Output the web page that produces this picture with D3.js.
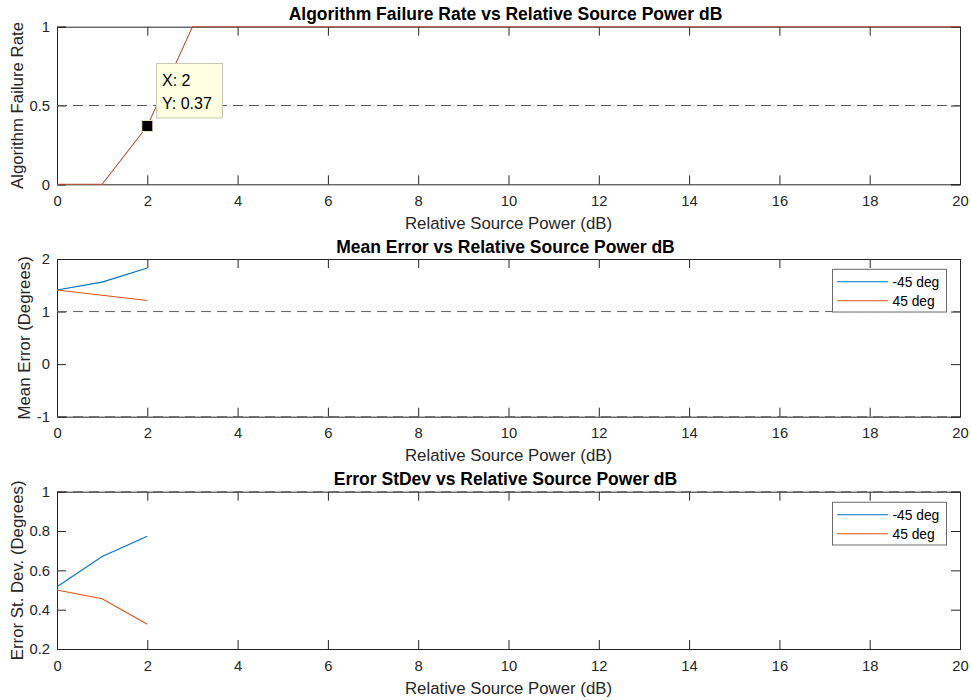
<!DOCTYPE html>
<html>
<head>
<meta charset="utf-8">
<script src="https://cdn.jsdelivr.net/npm/d3@7"></script>
<style>
  html, body { margin: 0; padding: 0; background: #fff; }
  svg { display: block; font-family: "Liberation Sans", Arial, Helvetica, sans-serif; }
</style>
</head>
<body>
<svg id="chart" width="971" height="700"></svg>
<script>
// ---- Data ----
const xFailure = [0,1,2,3,4,5,6,7,8,9,10,11,12,13,14,15,16,17,18,19,20];
const failureRate = [0,0,0.37,1,1,1,1,1,1,1,1,1,1,1,1,1,1,1,1,1,1];
const xError = [0,1,2];
const meanErrMinus45 = [1.41,1.56,1.83];
const meanErrPlus45 = [1.41,1.31,1.21];
const stdMinus45 = [0.517,0.67,0.773];
const stdPlus45 = [0.50,0.456,0.326];
const seriesNames = ["-45 deg","45 deg"];
const xTicks = [0,2,4,6,8,10,12,14,16,18,20];
const yTicks1 = [0,0.5,1];
const yTicks2 = [-1,0,1,2];
const yTicks3 = [0.2,0.4,0.6,0.8,1];
const titles = ["Algorithm Failure Rate vs Relative Source Power dB",
                "Mean Error vs Relative Source Power dB",
                "Error StDev vs Relative Source Power dB"];
const yLabels = ["Algorithm Failure Rate","Mean Error (Degrees)","Error St. Dev. (Degrees)"];
const xLabel = "Relative Source Power (dB)";
const cursorPoint = {x: 2, y: 0.37};

// ---- Styles ----
const AX = "#262626";
const BLUE = "#0072BD", ORANGE = "#D95319", MIX = "#b8553a";
const FONT = "'Liberation Sans', Arial, sans-serif";
const svg = d3.select("#chart");
const L = 57, R = 960, TICK = 9;

const x = d3.scaleLinear().domain([0,20]).range([L,R]);

function panel(top, bottom, yDomain, yTicks, idx, yLabX) {
  const y = d3.scaleLinear().domain(yDomain).range([bottom, top]);
  const g = svg.append("g");
  const fmt = d => String(d);
  const ax = [
    d3.axisBottom(x).tickValues(xTicks).tickSize(-TICK).tickPadding(11).tickFormat(fmt),
    d3.axisTop(x).tickValues(xTicks).tickSize(-TICK).tickFormat(""),
    d3.axisLeft(y).tickValues(yTicks).tickSize(-TICK).tickPadding(7).tickFormat(fmt),
    d3.axisRight(y).tickValues(yTicks).tickSize(-TICK).tickFormat("")
  ];
  const trans = [`translate(0,${bottom})`,`translate(0,${top})`,`translate(${L},0)`,`translate(${R},0)`];
  ax.forEach((a,i)=>{
    const ga = g.append("g").attr("transform", trans[i]).call(a)
      .attr("font-size", 14.8).attr("font-family", FONT);
    ga.select(".domain").attr("stroke", AX).attr("stroke-width",1);
    ga.selectAll(".tick line").attr("stroke", AX);
    ga.selectAll(".tick text").attr("fill", AX);
  });
  svg.append("text").attr("x", (L+R)/2 - 3).attr("y", top-6.5).attr("text-anchor","middle")
    .attr("font-size","17.5px").attr("font-weight","bold").attr("fill","#000").text(titles[idx]);
  svg.append("text").attr("x", (L+R)/2).attr("y", bottom+44.5).attr("text-anchor","middle")
    .attr("font-size","16.8px").attr("fill", AX).text(xLabel);
  svg.append("text").attr("transform", `translate(${yLabX},${(top+bottom)/2}) rotate(-90)`)
    .attr("text-anchor","middle").attr("font-size","16.8px").attr("fill", AX).text(yLabels[idx]);
  return {g, y};
}

function dashed(g, y, v) {
  g.append("line").attr("x1", L).attr("x2", R).attr("y1", y(v)).attr("y2", y(v))
    .attr("stroke", "#5e5e5e").attr("stroke-width", 1).attr("stroke-dasharray", "10,6");
}

function drawLine(g, y, xs, ys, color) {
  const line = d3.line().x((d,i)=>x(xs[i])).y(d=>y(d));
  g.append("path").datum(ys).attr("d", line).attr("fill","none")
    .attr("stroke", color).attr("stroke-width", 1.1);
}

function legend(top) {
  const lg = svg.append("g");
  lg.append("rect").attr("x", 832.5).attr("y", top).attr("width", 114).attr("height", 42.7)
    .attr("fill","#fff").attr("stroke","#6a6a6a").attr("stroke-width",1);
  const cols = [BLUE, ORANGE];
  seriesNames.forEach((n,i)=>{
    const yy = top + 12.4 + i*19;
    lg.append("line").attr("x1", 837).attr("x2", 888).attr("y1", yy).attr("y2", yy)
      .attr("stroke", cols[i]).attr("stroke-width", 1.1);
    lg.append("text").attr("x", 892.5).attr("y", yy+4.8).attr("font-size","13.8px")
      .attr("fill","#000").text(n);
  });
}

// Panel 1
const p1 = panel(26.7, 184.3, [0,1], yTicks1, 0, 22.5);
dashed(p1.g, p1.y, 0.5);
drawLine(p1.g, p1.y, xFailure, failureRate, MIX);
const cx = x(cursorPoint.x), cy = p1.y(cursorPoint.y);
p1.g.append("rect").attr("x", cx-5.5).attr("y", cy-5.5).attr("width", 11).attr("height", 11)
  .attr("fill","#000").attr("stroke","#e8e6b8").attr("stroke-width",1);
const tip = p1.g.append("g");
tip.append("rect").attr("x", 156.5).attr("y", 63.5).attr("width", 66).attr("height", 54.5)
  .attr("fill","#ffffe1").attr("stroke","#c8c8b4").attr("stroke-width",1);
tip.append("text").attr("x", 162).attr("y", 86).attr("font-size","16px").attr("fill","#000")
  .text("X: " + cursorPoint.x);
tip.append("text").attr("x", 162).attr("y", 108.5).attr("font-size","16px").attr("fill","#000")
  .text("Y: " + cursorPoint.y);

// Panel 2
const p2 = panel(259, 416.7, [-1,2], yTicks2, 1, 30.2);
dashed(p2.g, p2.y, 1);
dashed(p2.g, p2.y, -1);
drawLine(p2.g, p2.y, xError, meanErrMinus45, BLUE);
drawLine(p2.g, p2.y, xError, meanErrPlus45, ORANGE);
legend(269.3);

// Panel 3
const p3 = panel(491.7, 649, [0.2,1], yTicks3, 2, 23.2);
dashed(p3.g, p3.y, 1);
drawLine(p3.g, p3.y, xError, stdMinus45, BLUE);
drawLine(p3.g, p3.y, xError, stdPlus45, ORANGE);
legend(502.3);
</script>
</body>
</html>
